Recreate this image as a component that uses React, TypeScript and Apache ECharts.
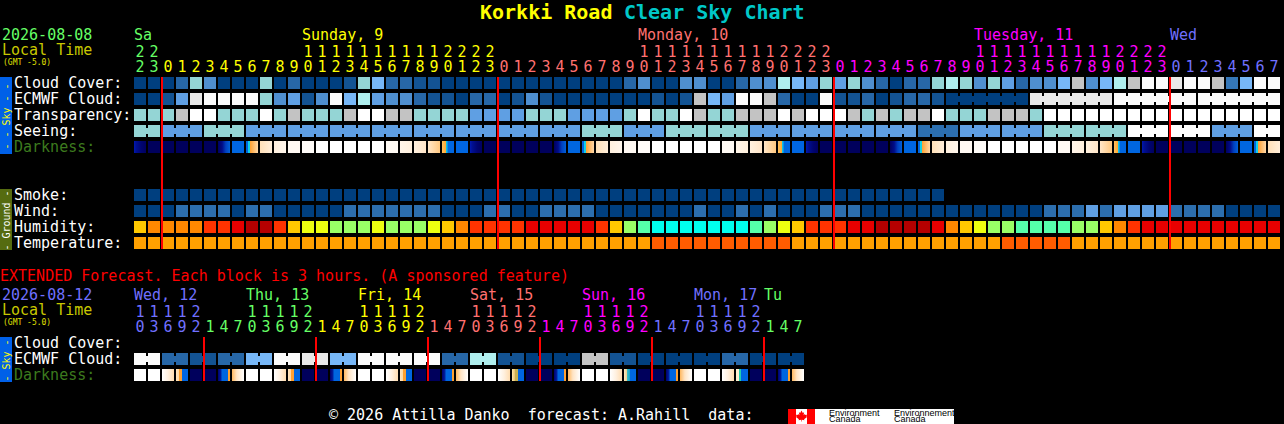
import React, { useEffect, useRef } from "react";
import * as echarts from "echarts";

const MONO = '"DejaVu Sans Mono", monospace';

// ---- colours ----
const GREEN = "#66ff66", YELLOW = "#ffff00", SALMON = "#ff7070", MAGENTA = "#ff00ff", BLUE = "#7070ff";

const cloudPalette = ["#003f7f", "#135393", "#2767a7", "#3577b7", "#4f8fcf", "#5f9fe3", "#77b7f7", "#94d5d5", "#afeeee", "#c4c4c4", "#e9e9e9", "#fbfbfb"];
const transPalette: Record<string, string> = { B: "#5f9fe3", T: "#94d5d5", G: "#c3c3c3", W: "#ffffff" };
const seeingPalette: Record<string, string> = { D: "#2c6fb0", B: "#5f9fe3", T: "#94d5d5", W: "#ffffff" };
const windPalette = ["#003f7f", "#2c6eae", "#5f9fe3"];
const humidityPalette: Record<string, string> = { D: "#b50000", R: "#e80000", r: "#ff3300", o: "#ff8800", y: "#ffc800", Y: "#edff10", g: "#99ff66", m: "#55ffaa", c: "#00ffee" };
const tempPalette: Record<string, string> = { A: "#ffa000", B: "#ff5c00" };

const grad = (stops: [number, string][]) => ({ type: "linear", x: 0, y: 0, x2: 1, y2: 0, colorStops: stops.map(([offset, color]) => ({ offset, color })) });
const darkPalette: Record<string, any> = {
  N: "#00005c",
  B: "#0066e0",
  W: "#ffffff",
  E: grad([[0, "#0018b0"], [0.2, "#000f90"], [0.6, "#000470"], [1, "#000060"]]),
  M: grad([[0, "#000060"], [0.35, "#000c88"], [0.65, "#0040c0"], [1, "#0060d8"]]),
  S: grad([[0, "#0066e0"], [0.16, "#0066e0"], [0.16, "#10d0e8"], [0.33, "#10d0e8"], [0.33, "#ffa030"], [1, "#ffd8a8"]]),
  A: grad([[0, "#ffe0b8"], [1, "#ffeeda"]]),
  C: grad([[0, "#fff0de"], [1, "#fff6ec"]]),
  D: "#fff9f3",
  F: "#fffcf9",
  J: "#fffaf4",
  K: grad([[0, "#fff5e9"], [1, "#fff0dd"]]),
  G: grad([[0, "#fff1df"], [1, "#ffe5c8"]]),
  H: grad([[0, "#ffe6c8"], [1, "#ffc880"]]),
  T: grad([[0, "#ffc060"], [0.33, "#ffa830"], [0.33, "#10c0e8"], [0.42, "#10c0e8"], [0.5, "#0066e0"], [1, "#0066e0"]]),
  X: grad([[0, "#ffffff"], [0.5, "#fff0df"], [1, "#ffdcb0"]]),
  Y: grad([[0, "#ffe4c0"], [0.25, "#ffd8a0"], [0.25, "#ffa030"], [0.5, "#ffa030"], [0.5, "#0066e0"], [1, "#0066e0"]]),
  P: grad([[0, "#ffe8a8"], [0.25, "#e8c070"], [0.25, "#c8b050"], [0.5, "#c8b050"], [0.5, "#0066e0"], [1, "#0066e0"]]),
  Q: grad([[0, "#ffe8c0"], [0.25, "#e8d090"], [0.25, "#40c0c0"], [0.5, "#10a0d0"], [0.5, "#0066e0"], [1, "#0066e0"]]),
  V: grad([[0, "#ffefd0"], [0.25, "#ffefd0"], [0.25, "#20d0b0"], [0.42, "#20d0b0"], [0.42, "#0066e0"], [1, "#0066e0"]]),
  R: grad([[0, "#000070"], [0.25, "#0020a0"], [0.33, "#0066e0"], [0.83, "#0066e0"], [0.83, "#ffa030"], [1, "#ffa030"]]),
  O: grad([[0, "#ffb860"], [0.4, "#ffe4c4"], [1, "#ffffff"]]),
};

// ---- main chart values (one per hour) ----
const hourUnits = "2 3 0 1 2 3 4 5 6 7 8 9 0 1 2 3 4 5 6 7 8 9 0 1 2 3 0 1 2 3 4 5 6 7 8 9 0 1 2 3 4 5 6 7 8 9 0 1 2 3 0 1 2 3 4 5 6 7 8 9 0 1 2 3 4 5 6 7 8 9 0 1 2 3 0 1 2 3 4 5 6 7".split(" ");
const hourTens = "2 2 . . . . . . . . . . 1 1 1 1 1 1 1 1 1 1 2 2 2 2 . . . . . . . . . . 1 1 1 1 1 1 1 1 1 1 2 2 2 2 . . . . . . . . . . 1 1 1 1 1 1 1 1 1 1 2 2 2 2 . . . . . . . .".split(" ");
const hourDayColors = [
  { upto: 2, color: GREEN }, { upto: 26, color: YELLOW }, { upto: 50, color: SALMON }, { upto: 74, color: MAGENTA }, { upto: 82, color: BLUE },
];
const dayLabels = [
  { col: 0, text: "Sa", color: GREEN },
  { col: 12, text: "Sunday, 9", color: YELLOW },
  { col: 36, text: "Monday, 10", color: SALMON },
  { col: 60, text: "Tuesday, 11", color: MAGENTA },
  { col: 74, text: "Wed", color: BLUE },
];
const midnightCols = [2, 26, 50, 74];

const mainRowLabels = ["Cloud Cover:", "ECMWF Cloud:", "Transparency:", "Seeing:", "Darkness:", "", "", "Smoke:", "Wind:", "Humidity:", "Temperature:"];

const cloudCover = [
  0, 0, 0, 2, 7, 4, 0, 0, 0, 7,
  0, 2, 0, 0, 0, 1, 7, 6, 2, 2,
  1, 1, 0, 0, 0, 0, 0, 0, 0, 0,
  0, 0, 0, 0, 0, 2, 4, 0, 0, 4,
  4, 0, 0, 2, 4, 4, 8, 6, 5, 7,
  5, 7, 4, 2, 0, 2, 2, 7, 8, 7,
  4, 7, 5, 2, 4, 4, 6, 9, 4, 6,
  8, 9, 11, 11, 10, 11, 11, 9, 3, 6, 11, 11,
];
const ecmwfCloud = [
  0, 0, 1, 5, 10, 11, 11, 11, 11, 7,
  4, 5, 1, 4, 11, 6, 8, 5, 4, 4,
  2, 1, 1, 0, 2, 2, 0, 1, 4, 1,
  0, 0, 0, 0, 0, 0, 0, 1, 0, 1,
  9, 6, 5, 11, 11, 9, 2, 0, 0, 11,
  1, 1, 2, 0, 1, 2, 2, 1, 0, 0,
  0, 0, 0, 0, 10, 10, 10, 10, 10, 10,
  11, 11, 11, 11, 11, 11, 11, 11, 11, 11, 11, 11,
];
const ecmwfBlockStarts = [58, 64, 70, 76];
const transparency = "TTTGWWTTTWTGTTTGWWGGTTTTBBBBTTTBBBBTWTTWGTTGGGWGWWWGTGTGGWTTTGGGTWWWWWWWWWWWWWWWWW".split("");
const seeing = "TTBBBTTTBBBBBBBBBBBBBBBBBBBBBBBBTTTBBBTTTTTTBBBBBBBBBBBBDDDBBBBBBTTTTTTWWWWWWBBBWW".split("");
const seeingBlockStarts = [0, 2, 5, 8, 11, 14, 17, 20, 23, 26, 29, 32, 35, 38, 41, 44, 47, 50, 53, 56, 59, 62, 65, 68, 71, 74, 77, 80];
const darkness = "ENNNNNMBSACDFWWWWWJKGHTBENNNNNMBSACDFWWWWWJKGHTBENNNNNMBSACDFWWWWWJKGHTBENNNNNMBSA".split("");
const smokeCols = Array<number>(58).fill(0);
const wind = [
  0, 0, 0, 1, 1, 1, 1, 0, 1, 1,
  0, 0, 0, 0, 0, 1, 1, 1, 1, 1,
  1, 1, 0, 0, 0, 1, 1, 0, 0, 1,
  1, 1, 1, 0, 0, 0, 0, 0, 0, 0,
  1, 0, 0, 1, 0, 1, 0, 0, 0, 1,
  1, 1, 0, 0, 0, 0, 0, 0, 0, 0,
  0, 0, 0, 0, 0, 1, 1, 1, 2, 1,
  2, 2, 2, 2, 1, 1, 1, 1, 0, 0, 0, 0,
];
const humidity = "yoooorrRDDryYYgggYgggYyorrrrRRRRRrygmcccccccmgYyrrrRRDDDDRoyYggmmmmggyorRRRRRRRRRR".split("");
const temperature = "AAAAAAAAAAAAAAAAAAAAAAAAAAAAAAAAAAAAABBBBBBBBBBAAAAAAAAAAAAAAABBBBBAAAAAAAAAAAAAAA".split("");

// ---- extended forecast values (one per 3 hours) ----
const extUnits = "0 3 6 9 2 1 4 7 0 3 6 9 2 1 4 7 0 3 6 9 2 1 4 7 0 3 6 9 2 1 4 7 0 3 6 9 2 1 4 7 0 3 6 9 2 1 4 7".split(" ");
const extTens = "1 1 1 1 2 . . . 1 1 1 1 2 . . . 1 1 1 1 2 . . . 1 1 1 1 2 . . . 1 1 1 1 2 . . . 1 1 1 1 2 . . .".split(" ");
const extDayColors = [
  { upto: 5, color: BLUE }, { upto: 13, color: GREEN }, { upto: 21, color: YELLOW }, { upto: 29, color: SALMON }, { upto: 37, color: MAGENTA }, { upto: 45, color: BLUE }, { upto: 48, color: GREEN },
];
const extDayLabels = [
  { col: 0, text: "Wed, 12", color: BLUE },
  { col: 8, text: "Thu, 13", color: GREEN },
  { col: 16, text: "Fri, 14", color: YELLOW },
  { col: 24, text: "Sat, 15", color: SALMON },
  { col: 32, text: "Sun, 16", color: MAGENTA },
  { col: 40, text: "Mon, 17", color: BLUE },
  { col: 45, text: "Tu", color: GREEN },
];
const extMidnightCols = [5, 13, 21, 29, 37, 45];
const extRowLabels = ["Cloud Cover:", "ECMWF Cloud:", "Darkness:"];
const extEcmwf = [
  11, 11, 2, 2, 1, 1, 2, 2, 6, 6, 11, 11, 10, 10, 6, 6, 11, 11, 11, 11, 11, 11, 2, 2,
  8, 8, 1, 1, 0, 0, 0, 0, 9, 9, 1, 1, 0, 0, 0, 0, 0, 0, 2, 2, 0, 0, 0, 0,
];
const extDarkness = "WWXYNNROWWXYNNROWWXYNNROWWXPNNROWWXQNNROWWXVNNRO".split("");

const colorFor = (col: number, table: { upto: number; color: string }[]) => table.find((t) => col < t.upto)!.color;

const xCats = (labels: string[], table: { upto: number; color: string }[]) =>
  labels.map((v, i) => ({ value: v === "." ? "" : v, textStyle: { color: colorFor(i, table) } }));

const xAxisDef = (gridIndex: number, data: any[], offset: number) => ({
  type: "category",
  gridIndex,
  position: "top",
  offset,
  data,
  axisLine: { show: false },
  axisTick: { show: false },
  splitLine: { show: false },
  axisLabel: { interval: 0, margin: 1, fontFamily: MONO, fontSize: 15, hideOverlap: false },
});

const yAxisDef = (gridIndex: number, labels: string[]) => ({
  type: "category",
  gridIndex,
  inverse: true,
  data: labels.map((v) => ({ value: v, textStyle: { color: v === "Darkness:" ? "#3c7a1e" : "#ffffff", align: "left" } })),
  axisLine: { show: false },
  axisTick: { show: false },
  splitLine: { show: false },
  axisLabel: { interval: 0, margin: 119, align: "left", fontFamily: MONO, fontSize: 15, padding: [0, 0, 2, 0] },
});

const cellSeries = (name: string, grid: number, row: number, fills: any[], joined: (c: number) => boolean = () => false) => ({
  type: "custom",
  name,
  xAxisIndex: grid * 2,
  yAxisIndex: grid,
  silent: true,
  clip: false,
  encode: { x: 0, y: 1 },
  data: fills.map((_, c) => [c, row]),
  renderItem: (params: any, api: any) => {
    const c = api.value(0);
    const [cx, cy] = api.coord([c, api.value(1)]);
    const fill = fills[params.dataIndex];
    const children: any[] = [{ type: "rect", shape: { x: cx - 6, y: cy - 6, width: 12, height: 12 }, style: { fill } }];
    if (joined(c)) children.push({ type: "rect", shape: { x: cx + 6, y: cy - 3, width: 2, height: 6 }, style: { fill } });
    return { type: "group", children };
  },
});

const midnightSeries = (grid: number, cols: number[], lastRow: number) => ({
  type: "custom",
  name: "midnight",
  xAxisIndex: grid * 2,
  yAxisIndex: grid,
  silent: true,
  clip: false,
  z: 5,
  encode: { x: 0, y: 1 },
  data: cols.map((c) => [c, 0]),
  renderItem: (_: any, api: any) => {
    const [cx, top] = api.coord([api.value(0), 0]);
    const [, bottom] = api.coord([api.value(0), lastRow]);
    return { type: "rect", shape: { x: cx - 7, y: top - 6, width: 2, height: bottom - top + 12 }, style: { fill: "#ff0000" } };
  },
});

const daySeries = (grid: number, labels: { col: number; text: string; color: string }[]) => ({
  type: "custom",
  name: "days",
  xAxisIndex: grid * 2,
  yAxisIndex: grid,
  silent: true,
  clip: false,
  encode: { x: 0, y: 1 },
  data: labels.map((l) => [l.col, 0]),
  renderItem: (params: any, api: any) => {
    const [cx, cy] = api.coord([api.value(0), 0]);
    const l = labels[params.dataIndex];
    return { type: "text", style: { x: cx - 6, y: cy - 48, text: l.text, fill: l.color, font: `15px ${MONO}`, verticalAlign: "middle", align: "left" } };
  },
});

const txt = (x: number, y: number, text: string, fill: string, size = 15, weight = "normal", family = MONO) => ({
  type: "text",
  x,
  y,
  silent: true,
  style: { text, fill, font: `${weight} ${size}px ${family}`, verticalAlign: "middle", align: "left" },
});

const sideBar = (top: number, height: number, color: string, text: string, textColor: string) => [
  { type: "rect", silent: true, shape: { x: 0, y: top, width: 12, height }, style: { fill: color } },
  {
    type: "text",
    x: 6,
    y: top + height / 2 + 1,
    rotation: Math.PI / 2,
    silent: true,
    style: { text, fill: textColor, font: `10px ${MONO}`, align: "center", verticalAlign: "middle" },
  },
];

const leafPoints = [
  [0, -5.5], [1.3, -3], [2.6, -3.8], [2.1, -0.8], [3.4, -2], [3.9, -1], [5.5, -1.3], [5, 0.6], [5.6, 1.1], [2.6, 3.2], [2.9, 4.2], [0.3, 3.8], [0.3, 5.6], [-0.3, 5.6], [-0.3, 3.8], [-2.9, 4.2], [-2.6, 3.2], [-5.6, 1.1], [-5, 0.6], [-5.5, -1.3], [-3.9, -1], [-3.4, -2], [-2.1, -0.8], [-2.6, -3.8], [-1.3, -3],
];

const SANS = '"Liberation Sans", sans-serif';
const logo = [
  { type: "rect", silent: true, shape: { x: 788, y: 409, width: 166, height: 15 }, style: { fill: "#ffffff" } },
  { type: "rect", silent: true, shape: { x: 788, y: 409, width: 8, height: 15 }, style: { fill: "#ff0000" } },
  { type: "rect", silent: true, shape: { x: 807, y: 409, width: 8, height: 15 }, style: { fill: "#ff0000" } },
  { type: "polygon", silent: true, x: 801.5, y: 416, shape: { points: leafPoints }, style: { fill: "#ff0000" } },
  txt(829, 413, "Environment", "#000000", 9, "normal", SANS),
  txt(829, 419.4, "Canada", "#000000", 9, "normal", SANS),
  txt(894, 413, "Environnement", "#000000", 9, "normal", SANS),
  txt(894, 419.4, "Canada", "#000000", 9, "normal", SANS),
];

const joinedBy = (starts: number[], last: number, from = 0) => (c: number) => c >= from && c < last && !starts.includes(c + 1);

const option: any = {
  animation: false,
  backgroundColor: "#000000",
  grid: [
    { left: 133, top: 75, width: 1148, height: 176, containLabel: false, outerBoundsMode: "none" },
    { left: 133, top: 335, width: 672, height: 48, containLabel: false, outerBoundsMode: "none" },
  ],
  xAxis: [
    xAxisDef(0, xCats(hourUnits, hourDayColors), 0),
    xAxisDef(0, xCats(hourTens, hourDayColors), 15),
    xAxisDef(1, xCats(extUnits, extDayColors), 0),
    xAxisDef(1, xCats(extTens, extDayColors), 15),
  ],
  yAxis: [yAxisDef(0, mainRowLabels), yAxisDef(1, extRowLabels)],
  series: [
    cellSeries("Cloud Cover", 0, 0, cloudCover.map((v) => cloudPalette[v])),
    cellSeries("ECMWF Cloud", 0, 1, ecmwfCloud.map((v) => cloudPalette[v]), joinedBy(ecmwfBlockStarts, 81, 58)),
    cellSeries("Transparency", 0, 2, transparency.map((v) => transPalette[v])),
    cellSeries("Seeing", 0, 3, seeing.map((v) => seeingPalette[v]), joinedBy(seeingBlockStarts, 81)),
    cellSeries("Darkness", 0, 4, darkness.map((v) => darkPalette[v])),
    cellSeries("Smoke", 0, 7, smokeCols.map((v) => cloudPalette[v])),
    cellSeries("Wind", 0, 8, wind.map((v) => windPalette[v])),
    cellSeries("Humidity", 0, 9, humidity.map((v) => humidityPalette[v])),
    cellSeries("Temperature", 0, 10, temperature.map((v) => tempPalette[v])),
    midnightSeries(0, midnightCols, 10),
    daySeries(0, dayLabels),
    cellSeries("Extended ECMWF Cloud", 1, 1, extEcmwf.map((v) => cloudPalette[v]), (c) => c % 2 === 0),
    cellSeries("Extended Darkness", 1, 2, extDarkness.map((v) => darkPalette[v])),
    midnightSeries(1, extMidnightCols, 2),
    daySeries(1, extDayLabels),
  ],
  graphic: [
    {
      type: "group",
      silent: true,
      children: [
        txt(480, 12, "Korkki Road", "#ffff00", 20, "bold"),
        txt(624, 12, "Clear Sky Chart", "#00c8c8", 20, "bold"),
        txt(2, 35, "2026-08-08", GREEN),
        txt(2, 50, "Local Time", "#c8c800"),
        txt(3, 62, "(GMT -5.0)", "#e0e000", 8),
        ...sideBar(77, 77, "#0060e8", "- - Sky - -", "#ffff00"),
        ...sideBar(189, 61, "#556b10", "- Ground -", "#ffffff"),
        txt(0, 276, "EXTENDED Forecast. Each block is 3 hours. (A sponsored feature)", "#ff0000"),
        txt(2, 295, "2026-08-12", BLUE),
        txt(2, 310, "Local Time", "#c8c800"),
        txt(3, 322, "(GMT -5.0)", "#e0e000", 8),
        ...sideBar(337, 45, "#0060e8", "- Sky -", "#ffff00"),
        txt(329, 415, "\u00a9 2026 Attilla Danko  forecast: A.Rahill  data:", "#ffffff"),
        ...logo,
      ],
    },
  ],
};

export default function App() {
  const ref = useRef<HTMLDivElement>(null);
  useEffect(() => {
    document.body.style.margin = "0";
    document.body.style.background = "#000";
    const chart = echarts.init(ref.current!, undefined, { renderer: "svg" });
    chart.setOption(option);
    return () => chart.dispose();
  }, []);
  return <div ref={ref} style={{ width: 1284, height: 424 }} />;
}
